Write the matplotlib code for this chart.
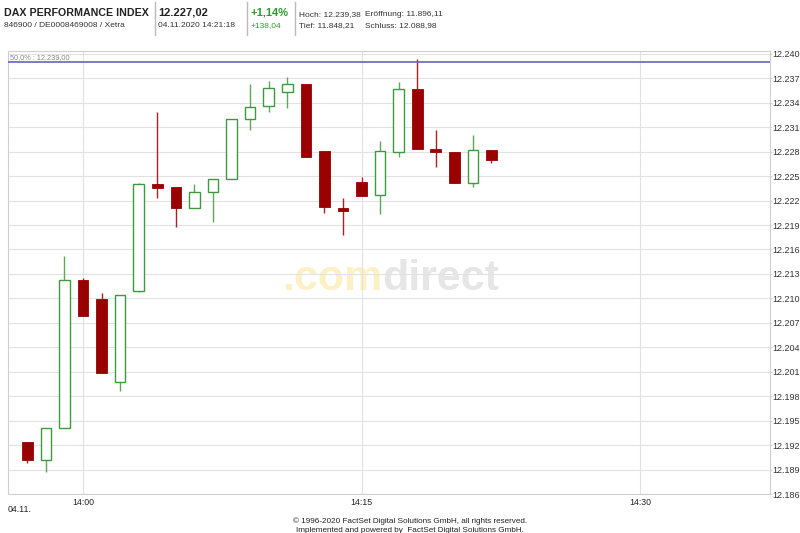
import matplotlib
matplotlib.use("Agg")
import matplotlib.pyplot as plt
from matplotlib.patches import Rectangle

# 1-minute candles, DAX 04.11.2020
times = ["13:57", "13:58", "13:59", "14:00", "14:01", "14:02", "14:03", "14:04",
         "14:05", "14:06", "14:07", "14:08", "14:09", "14:10", "14:11", "14:12",
         "14:13", "14:14", "14:15", "14:16", "14:17", "14:18", "14:19", "14:20",
         "14:21", "14:22"]
opens = [12192.4, 12190.2, 12194.1, 12212.3, 12209.9, 12199.8, 12210.9, 12224.0,
         12223.7, 12221.1, 12223.1, 12224.6, 12232.0, 12233.6, 12235.3, 12236.3,
         12228.1, 12221.1, 12224.3, 12222.7, 12228.0, 12235.7, 12228.3, 12227.9,
         12224.2, 12228.2]
highs = [12192.4, 12194.1, 12215.2, 12212.5, 12210.6, 12210.4, 12224.1, 12232.9,
         12223.7, 12224.0, 12224.7, 12232.0, 12236.3, 12236.7, 12237.1, 12236.3,
         12228.1, 12222.3, 12224.9, 12229.3, 12236.6, 12239.4, 12230.6, 12227.9,
         12230.0, 12228.2]
lows = [12189.8, 12188.7, 12194.1, 12207.8, 12200.8, 12198.6, 12210.8, 12222.3,
        12218.7, 12221.1, 12219.4, 12224.6, 12230.7, 12232.9, 12233.4, 12227.3,
        12220.5, 12217.8, 12222.6, 12220.3, 12227.4, 12228.3, 12226.1, 12224.1,
        12223.7, 12226.6]
closes = [12190.2, 12194.1, 12212.3, 12207.8, 12200.8, 12210.4, 12224.0, 12223.6,
          12221.1, 12223.1, 12224.7, 12232.0, 12233.5, 12235.8, 12236.3, 12227.3,
          12221.25, 12220.8, 12222.6, 12228.1, 12235.7, 12228.3, 12228.0, 12224.1,
          12228.2, 12227.0]

price_ticks = list(range(12186, 12241, 3))
time_ticks = ["14:00", "14:15", "14:30"]
level = 12239.0
level_label = "50,0% : 12.239,00"

RED = "#990000"
RED_WICK = "#a82020"
GREEN = "#3d9a3d"
GREEN_WICK = "#5aa85a"

plt.rcParams["font.family"] = ["Liberation Sans", "DejaVu Sans"]

W, H = 800, 533


def minutes(t):
    h, m = t.split(":")
    return int(h) * 60 + int(m) - 14 * 60


def fx(px):
    return px / W


def fy(py):
    return 1 - py / H


fig = plt.figure(figsize=(8, 5.33), dpi=100)
ax = fig.add_axes([fx(8), fy(494), fx(770) - fx(8), fy(51) - fy(494)])

# watermark
ax.text(0.491, 0.46, ".com", transform=ax.transAxes, ha="right", va="baseline",
        fontsize=31, fontweight="bold", color="#fcf0c4", zorder=0)
ax.text(0.491, 0.46, "direct", transform=ax.transAxes, ha="left", va="baseline",
        fontsize=31, fontweight="bold", color="#e6e6e6", zorder=0)

# candles
bw = 0.57
for t, o, h, l, c in zip(times, opens, highs, lows, closes):
    x = minutes(t)
    up = c >= o
    ax.vlines(x, l, h, color=GREEN_WICK if up else RED_WICK, lw=1.0, zorder=3)
    lo, hi = min(o, c), max(o, c)
    if hi - lo < 0.35:
        lo, hi = (lo + hi) / 2 - 0.175, (lo + hi) / 2 + 0.175
    if up:
        ax.add_patch(Rectangle((x - bw / 2, lo), bw, hi - lo, facecolor="white",
                               edgecolor=GREEN, lw=1.0, zorder=4))
    else:
        ax.add_patch(Rectangle((x - bw / 2, lo), bw, hi - lo, facecolor=RED,
                               edgecolor=RED, lw=0.6, zorder=4))

# level line
ax.axhline(level, color="#6262c8", lw=1.2, zorder=5)
ax.annotate(level_label, xy=(0, level), xycoords=("axes fraction", "data"),
            xytext=(1.5, 0.6), textcoords="offset points", va="bottom",
            fontsize=5.3, color="#8a8a8a")

ax.set_xlim(-4.04, 37.0)
ax.set_ylim(12186, 12240.35)

ax.set_yticks(price_ticks)
ax.set_yticklabels([f"{v:,}".replace(",", ".") for v in price_ticks])
ax.yaxis.tick_right()
ax.tick_params(axis="y", length=1.5, width=0.6, color="#cccccc", pad=0.3,
               labelsize=6.5, labelcolor="#333333")

ax.set_xticks([minutes(t) for t in time_ticks])
ax.set_xticklabels(time_ticks)
ax.tick_params(axis="x", length=0, pad=3, labelsize=6.3, labelcolor="#222222")

ax.grid(True, color="#e2e2e2", lw=0.8, zorder=1)
ax.set_axisbelow(True)
for s in ax.spines.values():
    s.set_color("#cfcfcf")
    s.set_linewidth(0.8)

fig.text(fx(8), fy(510), "04.11.", fontsize=6.3, va="center", color="#222222")

# header
fig.text(fx(4.5), fy(15.7), "DAX PERFORMANCE INDEX", fontsize=7.7, fontweight="bold",
         color="#222222", va="baseline")
fig.text(fx(4.5), fy(27.3), "846900 / DE0008469008 / Xetra", fontsize=6,
         color="#333333", va="baseline")
fig.text(fx(158), fy(15.7), "12.227,02", fontsize=8, fontweight="bold",
         color="#222222", va="baseline")
fig.text(fx(158), fy(27.3), "04.11.2020 14:21:18", fontsize=6,
         color="#333333", va="baseline")
fig.text(fx(250.5), fy(15.7), "+1,14%", fontsize=8, fontweight="bold",
         color="#2e9a2e", va="baseline")
fig.text(fx(250.5), fy(27.3), "+138,04", fontsize=6, color="#2e9a2e", va="baseline")
fig.text(fx(299), fy(16.5), "Hoch: 12.239,38", fontsize=6, color="#333333", va="baseline")
fig.text(fx(365), fy(16.5), "Eröffnung: 11.896,11", fontsize=6, color="#333333", va="baseline")
fig.text(fx(299), fy(27.3), "Tief: 11.848,21", fontsize=6, color="#333333", va="baseline")
fig.text(fx(365), fy(27.3), "Schluss: 12.088,98", fontsize=6, color="#333333", va="baseline")
for sx in [154.5, 247, 295]:
    fig.add_artist(plt.Line2D([fx(sx), fx(sx)], [fy(2), fy(35)], color="#bbbbbb",
                              lw=1.0, transform=fig.transFigure))

# footer
fig.text(fx(410), fy(521.5), "© 1996-2020 FactSet Digital Solutions GmbH, all rights reserved.",
         fontsize=5.9, ha="center", va="center", color="#222222")
fig.text(fx(410), fy(530), "Implemented and powered by  FactSet Digital Solutions GmbH.",
         fontsize=5.9, ha="center", va="center", color="#222222")

fig.savefig("out.png", dpi=100)
